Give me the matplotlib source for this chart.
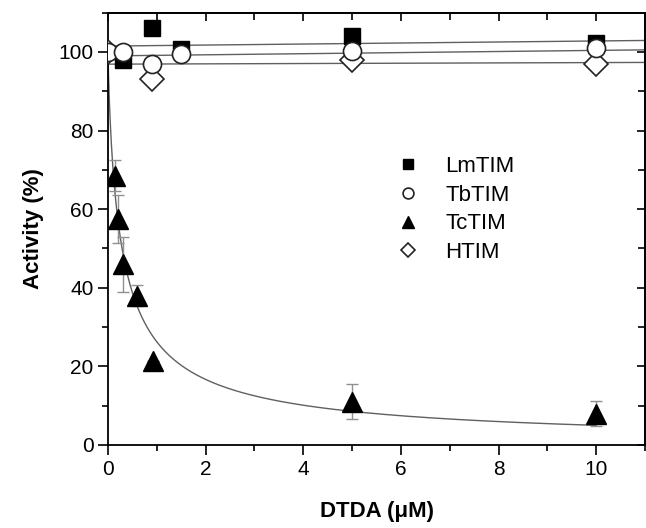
import numpy as np
import matplotlib
matplotlib.use("Agg")
import matplotlib.pyplot as plt
from matplotlib.ticker import MultipleLocator

plt.rcParams['font.family'] = ['Liberation Sans', 'DejaVu Sans']

# ---- data ----
lm_x = [0.3, 0.9, 1.5, 5, 10]
lm_y = [98, 106, 100.8, 104, 102.3]

tb_x = [0, 0.3, 0.9, 1.5, 5, 10]
tb_y = [100, 100, 97, 99.5, 100.3, 101]

tc_x = [0.14, 0.2, 0.31, 0.6, 0.92, 5, 10]
tc_y = [68.5, 57.5, 46, 38, 21.3, 11, 8]
tc_err = [4, 6, 7, 2.7, 0, 4.5, 3.2]

h_x = [0, 0.9, 5, 10]
h_y = [100, 93, 98, 97]

# fit parameters
lm_fit = (101.5, 0.13)   # intercept, slope
tb_fit = (99.0, 0.14)
h_fit = (96.9, 0.04)
tc_ic50, tc_hill = 0.288, 0.83

labels = ["LmTIM", "TbTIM", "TcTIM", "HTIM"]

# ---- figure ----
fig = plt.figure(figsize=(6.46, 5.28), dpi=100)
ax = fig.add_axes([0.1672, 0.1572, 0.8313, 0.8188])
ax.set_xlim(0, 11)
ax.set_ylim(0, 110)

line_c = '#606060'
xx = np.linspace(0, 11, 200)
for b0, b1 in (lm_fit, tb_fit, h_fit):
    ax.plot(xx, b0 + b1 * xx, color=line_c, lw=1.0, zorder=1)
xc = np.linspace(0, 10, 2000)
ax.plot(xc, 100 / (1 + (xc / tc_ic50) ** tc_hill), color=line_c, lw=1.0, zorder=1)

ax.errorbar(tc_x, tc_y, yerr=tc_err, fmt='none', ecolor='#909090',
            elinewidth=1.0, capsize=4, capthick=1.0, zorder=2)

ax.plot(h_x, h_y, linestyle='none', marker='D', ms=12, mfc='white', mec='#222222',
        mew=1.2, zorder=3, label=labels[3])
ax.plot(tb_x, tb_y, linestyle='none', marker='o', ms=13, mfc='white', mec='#222222',
        mew=1.2, zorder=4, label=labels[1])
ax.plot(lm_x, lm_y, linestyle='none', marker='s', ms=11, mfc='black', mec='black',
        zorder=3.5, label=labels[0])
ax.plot(tc_x, tc_y, linestyle='none', marker='^', ms=14, mfc='black', mec='black',
        zorder=5, label=labels[2])

handles, labs = ax.get_legend_handles_labels()
order = [labs.index(l) for l in labels]
leg = ax.legend([handles[i] for i in order], [labs[i] for i in order],
                loc='upper left', bbox_to_anchor=(0.5, 0.715), frameon=False,
                fontsize=16, markerscale=0.6, handlelength=1.0, handletextpad=1.2,
                labelspacing=0.35)

ax.xaxis.set_major_locator(MultipleLocator(2))
ax.xaxis.set_minor_locator(MultipleLocator(1))
ax.yaxis.set_major_locator(MultipleLocator(20))
ax.yaxis.set_minor_locator(MultipleLocator(10))
ax.tick_params(which='major', direction='out', length=7, width=1.2, labelsize=15,
               top=False, right=False)
ax.tick_params(which='minor', direction='out', length=4, width=1.2, top=False, right=False)

for s in ax.spines.values():
    s.set_linewidth(1.3)

# inward ticks on top and right
axt = ax.secondary_xaxis('top')
axt.xaxis.set_major_locator(MultipleLocator(2))
axt.xaxis.set_minor_locator(MultipleLocator(1))
axt.tick_params(which='both', direction='in', length=6, width=1.2, labeltop=False)
axt.tick_params(which='minor', length=5)
axt.spines['top'].set_linewidth(1.3)
axr = ax.secondary_yaxis('right')
axr.yaxis.set_major_locator(MultipleLocator(20))
axr.yaxis.set_minor_locator(MultipleLocator(10))
axr.tick_params(which='both', direction='in', length=6, width=1.2, labelright=False)
axr.tick_params(which='minor', length=5)
axr.spines['right'].set_linewidth(1.3)

ax.set_xlabel('DTDA (\u03bcM)', fontsize=16, fontweight='bold', labelpad=16)
ax.set_ylabel('Activity (%)', fontsize=16, fontweight='bold', labelpad=10)

fig.savefig('out.png', dpi=100)
